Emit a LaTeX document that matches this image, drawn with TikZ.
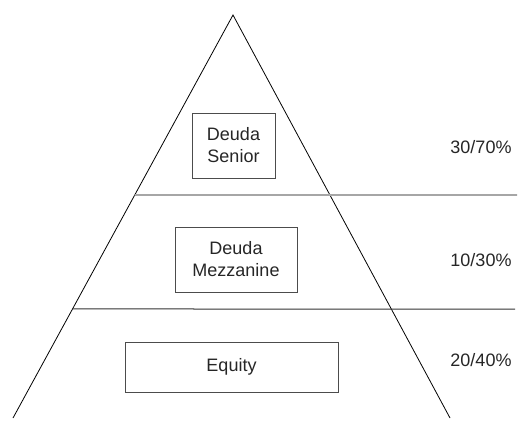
\documentclass[tikz,border=0pt]{standalone}
\usepackage{fontspec}
\setmainfont{Liberation Sans}
\usetikzlibrary{positioning, calc}

\tikzset{
    tramo/.style={draw=black!70, line width=0.9pt, align=center, inner sep=0pt,
        font=\fontsize{18}{22}\selectfont, text=black!85},
    porcentaje/.style={font=\fontsize{18}{22}\selectfont, text=black!85, inner sep=0pt}
}

\begin{document}
\begin{tikzpicture}[x=1pt, y=-1pt]
    \useasboundingbox (0,0) rectangle (525,421);

    \coordinate (apex) at (233,15);
    \coordinate (bl) at (13,418);
    \coordinate (br) at (450,418);

    % piramide
    \draw[black, line width=0.8pt] (bl) -- (apex) -- (br);

    % divisiones
    \coordinate (d1) at ($(apex)!0.4467!(bl)$);
    \coordinate (d1e) at (517,195);
    \coordinate (d2) at ($(apex)!0.7295!(bl)$);
    \coordinate (d2e) at (515,309);
    \draw[black!35, line width=1.8pt] (d1) -- (d1e);
    \draw[black!80, line width=1pt] (d2) -- (d2e);

    % tramos
    \node[tramo, minimum width=83pt, minimum height=65pt] (senior) at (233.5,145.5) {Deuda\\Senior};
    \node[tramo, minimum width=122pt, minimum height=65pt] (mezz) at (236,259.5) {Deuda\\Mezzanine};
    \node[tramo, minimum width=213pt, minimum height=50pt] (equity) at (231.5,367) {Equity};

    \foreach \nombre/\y/\texto in {
        psenior/147/{30/70\%},
        pmezz/260/{10/30\%},
        pequity/360/{20/40\%}}
    {
        \node[porcentaje] (\nombre) at (481,\y) {\texto};
    }
\end{tikzpicture}
\end{document}
